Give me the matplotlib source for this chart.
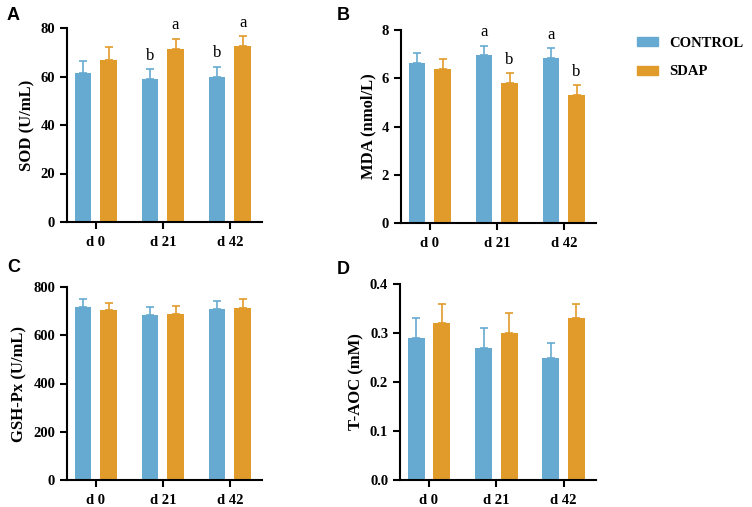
import matplotlib.pyplot as plt
import numpy as np

days = ["d 0", "d 21", "d 42"]
groups = ["CONTROL", "SDAP"]

sod_ctrl = [61.5, 59.0, 60.0]
sod_ctrl_sd = [5.0, 4.0, 4.0]
sod_sdap = [67.0, 71.5, 72.5]
sod_sdap_sd = [5.0, 4.0, 4.0]
sod_letters = [("", ""), ("b", "a"), ("b", "a")]

mda_ctrl = [6.65, 6.95, 6.85]
mda_ctrl_sd = [0.4, 0.4, 0.4]
mda_sdap = [6.4, 5.8, 5.3]
mda_sdap_sd = [0.4, 0.4, 0.4]
mda_letters = [("", ""), ("a", "b"), ("a", "b")]

gsh_ctrl = [718, 682, 707]
gsh_ctrl_sd = [33, 35, 36]
gsh_sdap = [703, 687, 713]
gsh_sdap_sd = [32, 35, 37]

taoc_ctrl = [0.29, 0.27, 0.25]
taoc_ctrl_sd = [0.04, 0.04, 0.03]
taoc_sdap = [0.32, 0.30, 0.33]
taoc_sdap_sd = [0.04, 0.04, 0.03]

BLUE = "#67aad1"
ORANGE = "#e09b2b"
SERIF = "Liberation Serif"

fig = plt.figure(figsize=(7.52, 5.07), dpi=100)
W, H = 752, 507


def add_axes(left, top, right, bottom):
    return fig.add_axes([left / W, 1 - bottom / H, (right - left) / W, (bottom - top) / H])


def panel(ax, ctrl, ctrl_sd, sdap, sdap_sd, ylim, yticks, ylabel, fmt, letters=None):
    x = np.arange(len(days))
    w, off = 0.25, 0.19
    for xs, vals, sd, col in [(x - off, ctrl, ctrl_sd, BLUE), (x + off, sdap, sdap_sd, ORANGE)]:
        ax.bar(xs, vals, width=w, color=col, zorder=2)
        ax.errorbar(xs, vals, yerr=[np.zeros(len(vals)), sd], fmt="none",
                    ecolor=col, elinewidth=1.2, capsize=3, capthick=1.2, zorder=1)
    if letters:
        for i, (lc, ls) in enumerate(letters):
            for xx, lab, v, s in [(x[i] - off, lc, ctrl[i], ctrl_sd[i]), (x[i] + off, ls, sdap[i], sdap_sd[i])]:
                if lab:
                    ax.annotate(lab, (xx, v + s), xytext=(0, 4), textcoords="offset points",
                                ha="center", va="bottom", fontsize=12, family=SERIF)
    ax.set_xlim(-0.43, 2.48)
    ax.set_ylim(*ylim)
    ax.set_yticks(yticks)
    ax.set_yticklabels([fmt.format(t) for t in yticks])
    ax.set_xticks(x)
    ax.set_xticklabels(days)
    for lab in ax.get_xticklabels() + ax.get_yticklabels():
        lab.set_fontfamily(SERIF)
        lab.set_fontweight("bold")
        lab.set_fontsize(10.5)
    ax.set_ylabel(ylabel, family=SERIF, fontweight="bold", fontsize=12)
    for s in ["top", "right"]:
        ax.spines[s].set_visible(False)
    for s in ["left", "bottom"]:
        ax.spines[s].set_linewidth(1.5)
    ax.tick_params(width=1.5, length=5)
    ax.tick_params(axis="x", pad=5)


axA = add_axes(67, 28, 262, 222)
panel(axA, sod_ctrl, sod_ctrl_sd, sod_sdap, sod_sdap_sd, (0, 80), [0, 20, 40, 60, 80],
      "SOD (U/mL)", "{:.0f}", sod_letters)
axB = add_axes(401, 30, 596, 223)
panel(axB, mda_ctrl, mda_ctrl_sd, mda_sdap, mda_sdap_sd, (0, 8), [0, 2, 4, 6, 8],
      "MDA (nmol/L)", "{:.0f}", mda_letters)
axC = add_axes(67, 287, 262, 480)
panel(axC, gsh_ctrl, gsh_ctrl_sd, gsh_sdap, gsh_sdap_sd, (0, 800), [0, 200, 400, 600, 800],
      "GSH-Px (U/mL)", "{:.0f}")
axD = add_axes(400, 284, 596, 480)
panel(axD, taoc_ctrl, taoc_ctrl_sd, taoc_sdap, taoc_sdap_sd, (0, 0.4), [0, 0.1, 0.2, 0.3, 0.4],
      "T-AOC (mM)", "{:.1f}")

for letter, (px, py) in zip("ABCD", [(7, 20), (337, 20), (7, 272), (337, 274)]):
    fig.text(px / W, 1 - py / H, letter, family="Liberation Sans", fontweight="bold", fontsize=13)

# legend
handles = [plt.Rectangle((0, 0), 1, 1, color=c) for c in [BLUE, ORANGE]]
fig.legend(handles, groups, loc="upper left", bbox_to_anchor=(637 / W, 1 - 37 / H),
           frameon=False, borderpad=0, borderaxespad=0,
           prop={"family": SERIF, "weight": "bold", "size": 10.5},
           handlelength=1.45, handleheight=0.6, labelspacing=1.05, handletextpad=0.75)

fig.savefig("out.png", dpi=100)
